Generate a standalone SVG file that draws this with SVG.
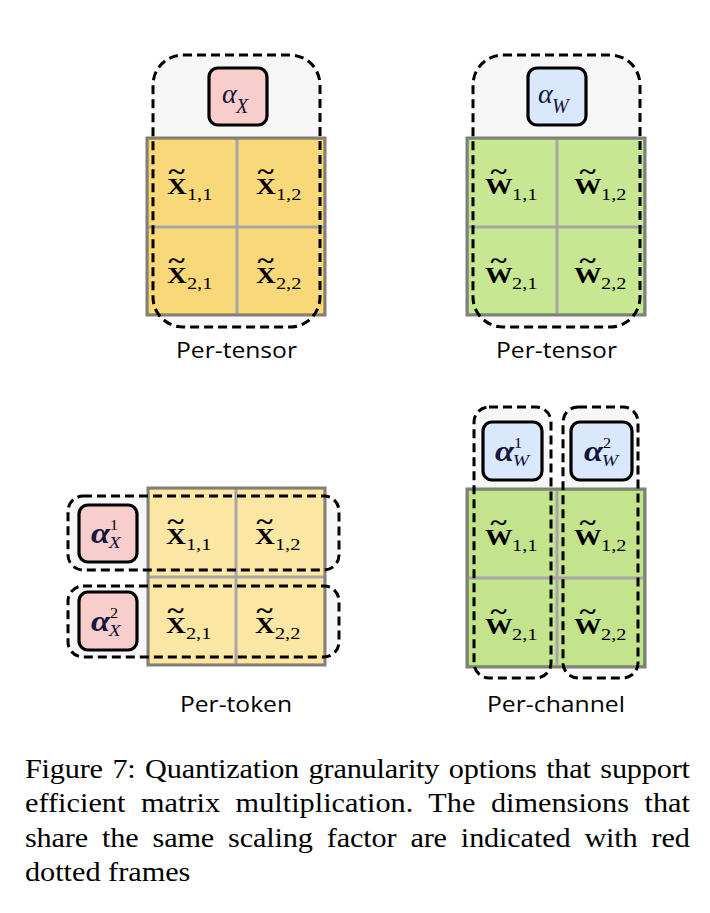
<svg xmlns="http://www.w3.org/2000/svg" width="710" height="913" viewBox="0 0 710 913">
<style>
.bg{fill:#f7f7f7;stroke:none}
.frame{fill:none;stroke:#000;stroke-width:3;stroke-dasharray:9 5}
.ax{fill:#f8cecc;stroke:#000;stroke-width:3.2}
.aw{fill:#dae8fc;stroke:#000;stroke-width:3.2}
.outer{fill:none;stroke:#7f7f7f;stroke-width:3}
.inner{stroke:#a6a6a6;stroke-width:3}
.cy{fill:#f8d878;stroke:#ffc000;stroke-width:2}
.cyl{fill:#fbe6a3;stroke:#ffd34d;stroke-width:2}
.cg{fill:#c8e793;stroke:#92d050;stroke-width:2}
.cgd{fill:#c3e38c;stroke:#7ccc2a;stroke-width:2}
.m{font-family:"Liberation Serif","DejaVu Serif",serif;fill:#000}
.big{font-weight:bold;font-size:23px}
.sub{font-size:17px}
.til{font-weight:bold;font-size:26px}
.al{font-family:"Liberation Serif","DejaVu Serif",serif;font-style:italic;fill:#14143c}
.lab{font-family:"Open Sans","Liberation Sans",sans-serif;font-size:21px;fill:#000}
.cap{font-family:"Liberation Serif","Times New Roman",serif;font-size:27.5px;fill:#000}
</style>
<defs>
  <g id="xl"><text class="m big" x="0" y="0">X</text><text class="m til" x="1.3" y="-14">~</text></g>
  <g id="wl"><text class="m big" x="0" y="0">W</text><text class="m til" x="4.5" y="-14">~</text></g>
</defs>

<!-- Top-left: per-tensor X -->
<g id="pt-x">
  <rect class="bg" x="153" y="55" width="167" height="272" rx="30"/>
  <rect class="cy" x="148" y="139" width="176" height="175"/>
  <line class="inner" x1="237" y1="139" x2="237" y2="314"/>
  <line class="inner" x1="148" y1="227" x2="324" y2="227"/>
  <rect class="outer" x="147" y="138" width="178" height="177"/>
  <rect class="frame" x="153" y="55" width="167" height="272" rx="30"/>
  <rect class="ax" x="209" y="68" width="58" height="57" rx="9"/>
  <g transform="translate(222,103)"><text class="al" font-size="28">α</text><text class="al" x="14" y="10" font-size="20">X</text></g>
  <g transform="translate(167,194) scale(1.2,1)"><use href="#xl"/><text class="m sub" x="16.6" y="6">1,1</text></g>
  <g transform="translate(256,194) scale(1.2,1)"><use href="#xl"/><text class="m sub" x="16.6" y="6">1,2</text></g>
  <g transform="translate(167,283) scale(1.2,1)"><use href="#xl"/><text class="m sub" x="16.6" y="6">2,1</text></g>
  <g transform="translate(256,283) scale(1.2,1)"><use href="#xl"/><text class="m sub" x="16.6" y="6">2,2</text></g>
  <text class="lab" x="176" y="358" textLength="121" lengthAdjust="spacingAndGlyphs">Per-tensor</text>
</g>

<!-- Top-right: per-tensor W -->
<g id="pt-w">
  <rect class="bg" x="473" y="55" width="167" height="272" rx="30"/>
  <rect class="cg" x="468" y="139" width="176" height="175"/>
  <line class="inner" x1="557" y1="139" x2="557" y2="314"/>
  <line class="inner" x1="468" y1="227" x2="644" y2="227"/>
  <rect class="outer" x="467" y="138" width="178" height="177"/>
  <rect class="frame" x="473" y="55" width="167" height="272" rx="30"/>
  <rect class="aw" x="528" y="68" width="58" height="57" rx="9"/>
  <g transform="translate(538,103)"><text class="al" font-size="28">α</text><text class="al" x="14" y="10" font-size="20">W</text></g>
  <g transform="translate(485,194) scale(1.2,1)"><use href="#wl"/><text class="m sub" x="22.5" y="6">1,1</text></g>
  <g transform="translate(574,194) scale(1.2,1)"><use href="#wl"/><text class="m sub" x="22.5" y="6">1,2</text></g>
  <g transform="translate(485,283) scale(1.2,1)"><use href="#wl"/><text class="m sub" x="22.5" y="6">2,1</text></g>
  <g transform="translate(574,283) scale(1.2,1)"><use href="#wl"/><text class="m sub" x="22.5" y="6">2,2</text></g>
  <text class="lab" x="496" y="358" textLength="121" lengthAdjust="spacingAndGlyphs">Per-tensor</text>
</g>

<!-- Bottom-left: per-token X -->
<g id="ptok-x">
  <rect class="bg" x="68" y="496" width="271" height="74" rx="15"/>
  <rect class="bg" x="68" y="586" width="271" height="71" rx="15"/>
  <rect class="cyl" x="149" y="489" width="175" height="175"/>
  <line class="inner" x1="236" y1="489" x2="236" y2="664"/>
  <line class="inner" x1="149" y1="577" x2="324" y2="577"/>
  <rect class="outer" x="148" y="488" width="177" height="177"/>
  <rect class="frame" x="68" y="496" width="271" height="74" rx="15"/>
  <rect class="frame" x="68" y="586" width="271" height="71" rx="15"/>
  <rect class="ax" x="79" y="505" width="58" height="57" rx="9"/>
  <rect class="ax" x="79" y="592" width="58" height="58" rx="9"/>
  <g transform="translate(91,543) scale(1.15,1)"><text class="al" font-size="30" font-weight="bold">α</text><text class="m" x="16.5" y="-13" font-size="14">1</text><text class="al" x="15.5" y="5" font-size="17">X</text></g>
  <g transform="translate(91,631) scale(1.15,1)"><text class="al" font-size="30" font-weight="bold">α</text><text class="m" x="16.5" y="-13" font-size="14">2</text><text class="al" x="15.5" y="5" font-size="17">X</text></g>
  <g transform="translate(166,544) scale(1.2,1)"><use href="#xl"/><text class="m sub" x="16.6" y="6">1,1</text></g>
  <g transform="translate(255,544) scale(1.2,1)"><use href="#xl"/><text class="m sub" x="16.6" y="6">1,2</text></g>
  <g transform="translate(166,633) scale(1.2,1)"><use href="#xl"/><text class="m sub" x="16.6" y="6">2,1</text></g>
  <g transform="translate(255,633) scale(1.2,1)"><use href="#xl"/><text class="m sub" x="16.6" y="6">2,2</text></g>
  <text class="lab" x="180" y="712" textLength="112" lengthAdjust="spacingAndGlyphs">Per-token</text>
</g>

<!-- Bottom-right: per-channel W -->
<g id="pch-w">
  <rect class="bg" x="474" y="407" width="77" height="271" rx="15"/>
  <rect class="bg" x="563" y="407" width="75" height="271" rx="15"/>
  <rect class="cgd" x="468" y="490" width="176" height="176"/>
  <line class="inner" x1="557" y1="490" x2="557" y2="666"/>
  <line class="inner" x1="468" y1="578" x2="644" y2="578"/>
  <rect class="outer" x="467" y="489" width="178" height="178"/>
  <rect class="frame" x="474" y="407" width="77" height="271" rx="15"/>
  <rect class="frame" x="563" y="407" width="75" height="271" rx="15"/>
  <rect class="aw" x="483" y="422" width="59" height="58" rx="9"/>
  <rect class="aw" x="571" y="422" width="61" height="58" rx="9"/>
  <g transform="translate(495,461) scale(1.15,1)"><text class="al" font-size="30" font-weight="bold">α</text><text class="m" x="16.5" y="-13" font-size="14">1</text><text class="al" x="15.5" y="5" font-size="17">W</text></g>
  <g transform="translate(584,461) scale(1.15,1)"><text class="al" font-size="30" font-weight="bold">α</text><text class="m" x="16.5" y="-13" font-size="14">2</text><text class="al" x="15.5" y="5" font-size="17">W</text></g>
  <g transform="translate(485,545) scale(1.2,1)"><use href="#wl"/><text class="m sub" x="22.5" y="6">1,1</text></g>
  <g transform="translate(574,545) scale(1.2,1)"><use href="#wl"/><text class="m sub" x="22.5" y="6">1,2</text></g>
  <g transform="translate(485,634) scale(1.2,1)"><use href="#wl"/><text class="m sub" x="22.5" y="6">2,1</text></g>
  <g transform="translate(574,634) scale(1.2,1)"><use href="#wl"/><text class="m sub" x="22.5" y="6">2,2</text></g>
  <text class="lab" x="487" y="712" textLength="138" lengthAdjust="spacingAndGlyphs">Per-channel</text>
</g>

<g id="connectors"></g>

<g id="caption" transform="scale(1.1,1)">
  <text class="cap" x="22.7" y="778" word-spacing="2" textLength="604.5" lengthAdjust="spacing">Figure 7: Quantization granularity options that support</text>
  <text class="cap" x="22.7" y="812.5" word-spacing="7.2" textLength="604.5" lengthAdjust="spacing">efficient matrix multiplication. The dimensions that</text>
  <text class="cap" x="22.7" y="847" word-spacing="6" textLength="604.5" lengthAdjust="spacing">share the same scaling factor are indicated with red</text>
  <text class="cap" x="22.7" y="881.5">dotted frames</text>
</g>
</svg>
